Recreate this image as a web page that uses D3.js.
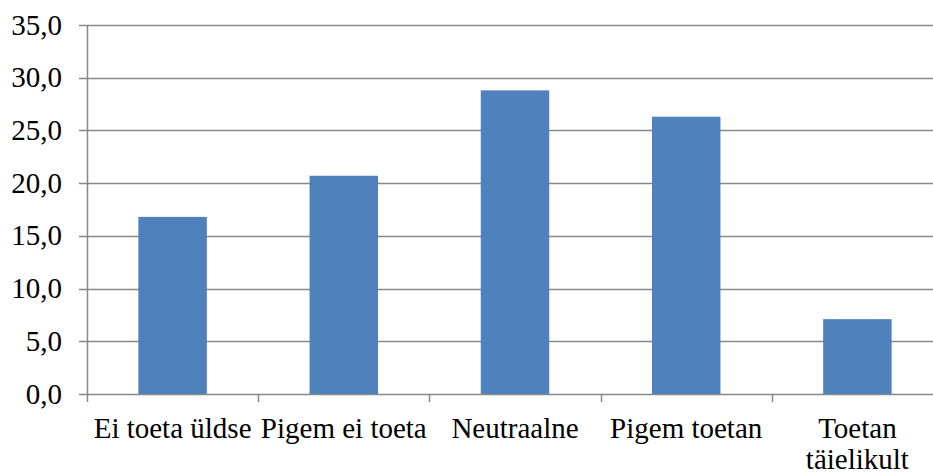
<!DOCTYPE html>
<html>
<head>
<meta charset="utf-8">
<script src="https://cdn.jsdelivr.net/npm/d3@7"></script>
<style>
  html, body { margin: 0; padding: 0; background: #fff; overflow: hidden; }
  svg { display: block; }
</style>
</head>
<body>
<svg id="chart" width="933" height="475"></svg>
<script>
// Answer categories (the last one is wrapped over two lines)
const categories = ["Ei toeta üldse", "Pigem ei toeta", "Neutraalne", "Pigem toetan", "Toetan täielikult"];
const categoryLines = [["Ei toeta üldse"], ["Pigem ei toeta"], ["Neutraalne"], ["Pigem toetan"], ["Toetan", "täielikult"]];
// Share of respondents, %
const values = [16.8, 20.7, 28.8, 26.3, 7.1];
const yTicks = [0, 5, 10, 15, 20, 25, 30, 35];

const FONT = "\"Liberation Serif\"";
const FONT_SIZE = 29;

const svg = d3.select("#chart");
const margin = { left: 87, top: 25, right: 943, bottom: 394 };

const x = d3.scaleBand()
  .domain(categories)
  .range([margin.left, margin.right])
  .paddingInner(0.6)
  .paddingOuter(0.3);

const y = d3.scaleLinear()
  .domain([0, 35])
  .range([margin.bottom, margin.top]);

const gridColor = "#888888";

// Horizontal gridlines with small ticks left of the axis
svg.append("g")
  .selectAll("line")
  .data(yTicks)
  .join("line")
  .attr("x1", margin.left - 8)
  .attr("x2", margin.right)
  .attr("y1", d => Math.round(y(d)) + 0.5)
  .attr("y2", d => Math.round(y(d)) + 0.5)
  .attr("stroke", gridColor)
  .attr("stroke-width", 1.5);

// Y tick labels
svg.append("g")
  .selectAll("text")
  .data(yTicks)
  .join("text")
  .attr("x", 62)
  .attr("y", d => y(d))
  .attr("dy", "0.33em")
  .attr("text-anchor", "end")
  .style("font-family", FONT)
  .style("font-size", FONT_SIZE + "px")
  .attr("fill", "#000")
  .text(d => d3.format(".1f")(d).replace(".", ","));

// Bars
svg.append("g")
  .selectAll("rect")
  .data(values)
  .join("rect")
  .attr("x", (d, i) => x(categories[i]))
  .attr("width", x.bandwidth())
  .attr("y", d => y(d))
  .attr("height", d => y(0) - y(d))
  .attr("fill", "#4F81BD");

// Vertical axis line
svg.append("line")
  .attr("x1", margin.left + 0.5).attr("x2", margin.left + 0.5)
  .attr("y1", margin.top).attr("y2", margin.bottom)
  .attr("stroke", gridColor).attr("stroke-width", 1.5);

// Category separator ticks below the baseline
const step = x.step();
const sepX = d3.range(categories.length + 1).map(i => margin.left + i * step);
svg.append("g")
  .selectAll("line")
  .data(sepX)
  .join("line")
  .attr("x1", d => Math.round(d) + 0.5)
  .attr("x2", d => Math.round(d) + 0.5)
  .attr("y1", margin.bottom)
  .attr("y2", margin.bottom + 8)
  .attr("stroke", gridColor)
  .attr("stroke-width", 1.5);

// Category labels
const lbl = svg.append("g")
  .selectAll("text")
  .data(categories)
  .join("text")
  .attr("x", d => x(d) + x.bandwidth() / 2)
  .attr("y", 438)
  .attr("text-anchor", "middle")
  .style("font-family", FONT)
  .style("font-size", FONT_SIZE + "px")
  .attr("fill", "#000");
lbl.each(function(d, i) {
  const t = d3.select(this);
  categoryLines[i].forEach((line, j) => {
    t.append("tspan")
      .attr("x", x(d) + x.bandwidth() / 2)
      .attr("dy", j === 0 ? 0 : 31)
      .text(line);
  });
});
</script>
</body>
</html>
